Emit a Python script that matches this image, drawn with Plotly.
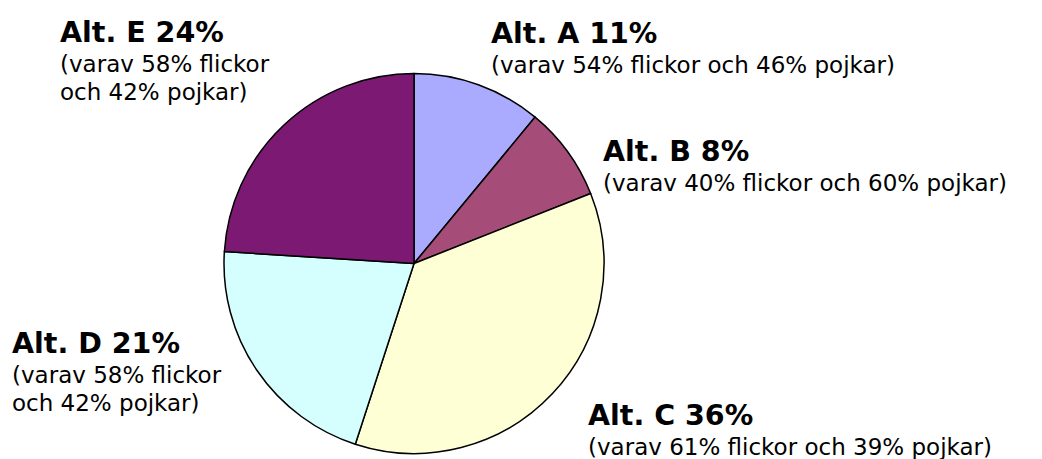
import plotly.graph_objects as go

# Data
alternatives = ["Alt. A", "Alt. B", "Alt. C", "Alt. D", "Alt. E"]
shares = [11, 8, 36, 21, 24]
girls = [54, 40, 61, 58, 58]
boys = [46, 60, 39, 42, 42]
colors = ["#AAAAFF", "#A64C79", "#FFFFD5", "#D5FFFF", "#7B1973"]

W, H = 1042, 459
cx, cy, r = 414, 263.5, 190

fig = go.Figure(go.Pie(
    labels=alternatives,
    values=shares,
    sort=False,
    direction="clockwise",
    rotation=0,
    textinfo="none",
    hoverinfo="skip",
    marker=dict(colors=colors, line=dict(color="black", width=1.5)),
    domain=dict(x=[(cx - r) / W, (cx + r) / W], y=[1 - (cy + r) / H, 1 - (cy - r) / H]),
    showlegend=False,
))

def body_lines(i, split):
    if split:
        return [f"(varav {girls[i]}% flickor", f"och {boys[i]}% pojkar)"]
    return [f"(varav {girls[i]}% flickor och {boys[i]}% pojkar)"]

label_pos = [  # (x_left, title_baseline, split_body)
    (491, 43, False),
    (603, 161, False),
    (588, 425, False),
    (12, 353, True),
    (60, 42, True),
]

FONT = "DejaVu Sans, Verdana, sans-serif"
TS, BS = 28.5, 23
annotations = []
for i, (x0, base, split) in enumerate(label_pos):
    annotations.append(dict(
        x=(x0 - 2) / W, y=1 - (base + 1 - 0.36 * TS) / H, xref="paper", yref="paper",
        xanchor="left", yanchor="middle", showarrow=False,
        text=f"<b>{alternatives[i]} {shares[i]}%</b>",
        font=dict(family=FONT, size=TS, color="black"),
    ))
    for j, line in enumerate(body_lines(i, split)):
        b = base + 30 + 28 * j
        annotations.append(dict(
            x=(x0 - 2) / W, y=1 - (b - 0.36 * BS) / H, xref="paper", yref="paper",
            xanchor="left", yanchor="middle", showarrow=False,
            text=line,
            font=dict(family=FONT, size=BS, color="black"),
        ))

fig.update_layout(
    width=W, height=H,
    margin=dict(l=0, r=0, t=0, b=0),
    paper_bgcolor="white", plot_bgcolor="white",
    annotations=annotations,
)

fig.write_html("out.html", config={"displayModeBar": False},
               post_script="document.body.style.margin='0';")
